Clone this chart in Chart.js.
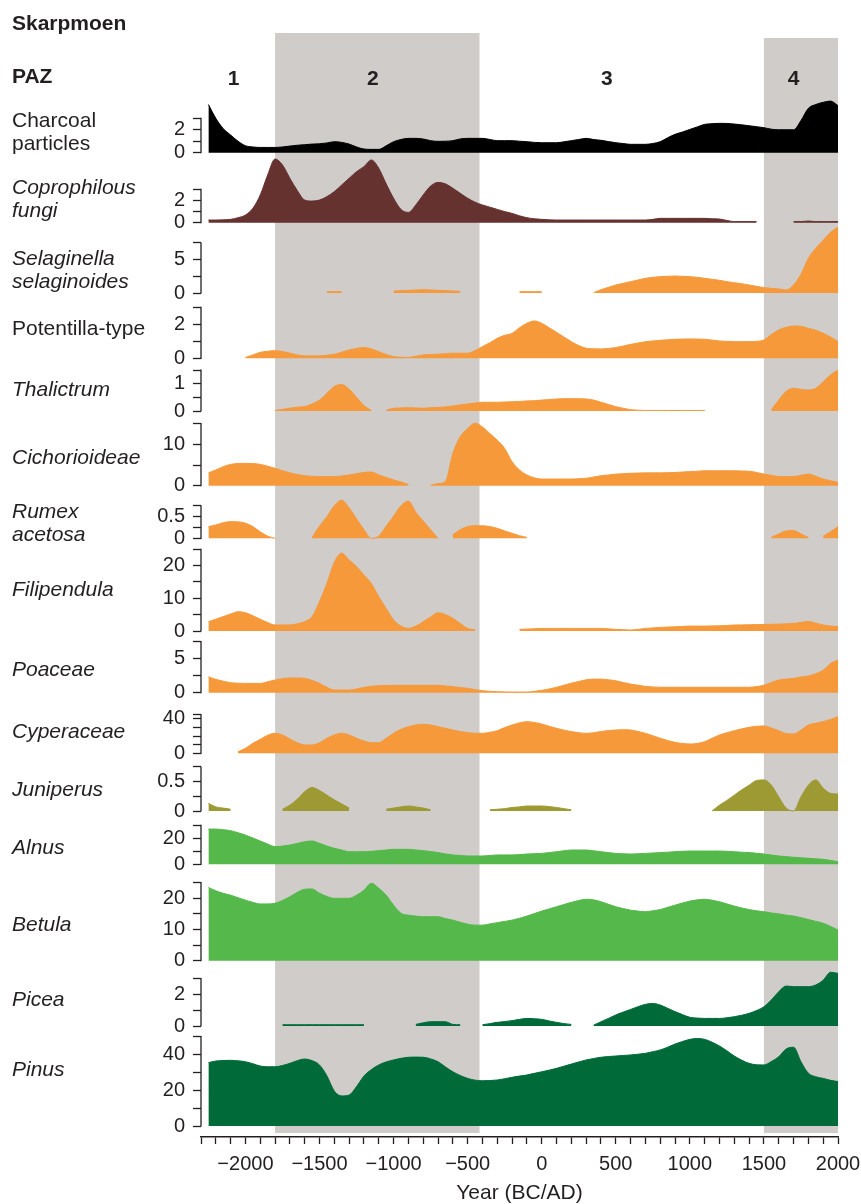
<!DOCTYPE html>
<html lang="en">
<head>
<meta charset="utf-8">
<title>Skarpmoen pollen diagram</title>
<script src="https://cdn.jsdelivr.net/npm/chart.js@4/dist/chart.umd.min.js"></script>
<style>
  html, body { margin: 0; padding: 0; background: #ffffff; }
  #box { position: relative; width: 861px; height: 1204px; }
</style>
</head>
<body>
<div id="box"><canvas id="diagram" width="861" height="1204"></canvas></div>
<script>
// ---- values, one every 50 years ----
const years = [
  -2250, -2200, -2150, -2100, -2050, -2000, -1950, -1900, -1850, -1800,
  -1750, -1700, -1650, -1600, -1550, -1500, -1450, -1400, -1350, -1300,
  -1250, -1200, -1150, -1100, -1050, -1000, -950, -900, -850, -800,
  -750, -700, -650, -600, -550, -500, -450, -400, -350, -300,
  -250, -200, -150, -100, -50, 0, 50, 100, 150, 200,
  250, 300, 350, 400, 450, 500, 550, 600, 650, 700,
  750, 800, 850, 900, 950, 1000, 1050, 1100, 1150, 1200,
  1250, 1300, 1350, 1400, 1450, 1500, 1550, 1600, 1650, 1700,
  1750, 1800, 1850, 1900, 1950, 2000
];

const charcoal = [
  4.2, 3.0, 2.1, 1.54, 1.0, 0.61, 0.5, 0.46, 0.46, 0.46,
  0.5, 0.58, 0.65, 0.7, 0.75, 0.78, 0.85, 0.96, 0.9, 0.75,
  0.5, 0.32, 0.29, 0.29, 0.6, 0.96, 1.15, 1.25, 1.25, 1.19,
  1.05, 0.99, 1.0, 1.05, 1.2, 1.25, 1.25, 1.25, 1.15, 1.05,
  1.05, 1.05, 1.0, 0.96, 0.9, 0.87, 0.87, 0.87, 0.95, 1.05,
  1.15, 1.25, 1.15, 1.08, 0.97, 0.87, 0.8, 0.73, 0.73, 0.73,
  0.8, 0.96, 1.3, 1.6, 1.8, 2.03, 2.25, 2.47, 2.53, 2.56,
  2.55, 2.5, 2.43, 2.35, 2.27, 2.18, 2.05, 2.0, 2.0, 2.0,
  2.8, 3.87, 4.2, 4.39, 4.5, 4.1
];
const coprophilousFungi = [
  0.24, 0.24, 0.26, 0.3, 0.45, 0.69, 1.3, 2.5, 4.3, 5.74,
  5.2, 4.0, 2.9, 2.04, 1.95, 2.04, 2.35, 2.8, 3.4, 4.0,
  4.6, 5.05, 5.65, 4.9, 3.5, 2.2, 1.2, 0.93, 1.6, 2.5,
  3.3, 3.63, 3.5, 3.1, 2.65, 2.2, 1.85, 1.6, 1.4, 1.2,
  1.0, 0.84, 0.62, 0.45, 0.35, 0.3, 0.26, 0.24, 0.24, 0.24,
  0.24, 0.24, 0.24, 0.24, 0.24, 0.24, 0.24, 0.24, 0.24, 0.24,
  0.3, 0.39, 0.39, 0.39, 0.39, 0.39, 0.39, 0.39, 0.35, 0.33,
  0.2, 0.1, 0.1, 0.1, 0.1, null, null, null, null, 0.1,
  0.1, 0.15, 0.1, 0.1, 0.1, 0.1
];
const selaginella = [
  null, null, null, null, null, null, null, null, null, null,
  null, null, null, null, null, null, 0.2, 0.2, 0.2, null,
  null, null, null, null, null, 0.3, 0.35, 0.4, 0.45, 0.5,
  0.45, 0.4, 0.35, 0.3, 0.25, null, null, null, null, null,
  null, null, 0.2, 0.2, 0.2, 0.2, null, null, null, null,
  null, null, 0.05, 0.5, 0.85, 1.2, 1.45, 1.7, 1.95, 2.2,
  2.35, 2.45, 2.5, 2.55, 2.5, 2.45, 2.35, 2.2, 2.05, 1.9,
  1.7, 1.55, 1.4, 1.2, 1.0, 0.8, 0.7, 0.6, 0.45, 1.2,
  2.8, 5.2, 6.7, 7.9, 9.1, 9.9
];
const potentilla = [
  null, null, null, null, null, 0.05, 0.2, 0.35, 0.42, 0.45,
  0.4, 0.3, 0.2, 0.14, 0.14, 0.14, 0.18, 0.24, 0.36, 0.49,
  0.58, 0.63, 0.55, 0.39, 0.22, 0.1, 0.06, 0.05, 0.12, 0.2,
  0.22, 0.24, 0.27, 0.3, 0.3, 0.3, 0.45, 0.69, 0.92, 1.18,
  1.35, 1.47, 1.8, 2.06, 2.2, 2.06, 1.8, 1.53, 1.25, 0.98,
  0.75, 0.59, 0.56, 0.55, 0.58, 0.63, 0.72, 0.82, 0.9, 0.98,
  1.02, 1.06, 1.09, 1.12, 1.13, 1.14, 1.13, 1.12, 1.07, 1.02,
  1.0, 0.98, 0.98, 0.98, 1.0, 1.08, 1.4, 1.67, 1.82, 1.9,
  1.88, 1.76, 1.65, 1.47, 1.25, 0.98
];
const thalictrum = [
  null, null, null, null, null, null, null, null, null, 0.02,
  0.06, 0.1, 0.14, 0.16, 0.26, 0.4, 0.65, 0.9, 0.97, 0.8,
  0.5, 0.2, 0.02, null, 0.02, 0.1, 0.11, 0.12, 0.11, 0.1,
  0.12, 0.13, 0.15, 0.18, 0.22, 0.26, 0.29, 0.32, 0.32, 0.32,
  0.33, 0.34, 0.35, 0.37, 0.38, 0.4, 0.42, 0.44, 0.45, 0.45,
  0.45, 0.44, 0.4, 0.32, 0.24, 0.16, 0.1, 0.05, 0.03, 0.02,
  0.02, 0.02, 0.02, 0.02, 0.02, 0.02, 0.02, 0.02, null, null,
  null, null, null, null, null, null, 0.05, 0.4, 0.72, 0.83,
  0.79, 0.77, 0.83, 1.07, 1.32, 1.5
];
const cichorioideae = [
  3.1, 3.8, 4.6, 5.15, 5.35, 5.4, 5.35, 5.15, 4.7, 4.2,
  3.6, 3.1, 2.7, 2.4, 2.25, 2.2, 2.2, 2.2, 2.35, 2.6,
  2.9, 3.2, 3.3, 2.6, 2.0, 1.4, 0.9, 0.3, null, null,
  0.1, 0.5, 1.0, 7.8, 11.8, 13.8, 15.1, 14.2, 12.6, 11.0,
  9.0, 5.8, 3.8, 2.6, 1.9, 1.6, 1.6, 1.6, 1.6, 1.6,
  1.7, 1.8, 2.1, 2.4, 2.6, 2.8, 2.9, 3.0, 3.05, 3.1,
  3.1, 3.1, 3.15, 3.2, 3.3, 3.4, 3.5, 3.6, 3.6, 3.6,
  3.6, 3.6, 3.55, 3.5, 3.2, 2.8, 2.5, 2.2, 2.2, 2.2,
  2.5, 2.8, 2.3, 1.6, 1.2, 0.8
];
const rumexAcetosa = [
  0.27, 0.31, 0.36, 0.385, 0.38, 0.35, 0.27, 0.15, 0.05, 0.0,
  null, null, null, null, 0.02, 0.28, 0.5, 0.75, 0.88, 0.7,
  0.45, 0.2, 0.0, 0.05, 0.28, 0.51, 0.75, 0.86, 0.6, 0.4,
  0.2, 0.0, null, 0.08, 0.2, 0.27, 0.29, 0.29, 0.27, 0.23,
  0.17, 0.115, 0.06, 0.02, null, null, null, null, null, null,
  null, null, null, null, null, null, null, null, null, null,
  null, null, null, null, null, null, null, null, null, null,
  null, null, null, null, null, null, 0.02, 0.1, 0.17, 0.18,
  0.1, 0.02, null, 0.05, 0.15, 0.27
];
const filipendula = [
  2.86, 3.6, 4.4, 5.2, 5.9, 5.6, 4.7, 3.6, 2.6, 1.84,
  1.84, 1.84, 2.2, 2.86, 4.4, 9.0, 14.6, 21.0, 23.8, 21.7,
  19.7, 17.1, 14.5, 10.5, 6.9, 3.4, 1.5, 0.8, 1.5, 2.86,
  4.3, 5.6, 5.0, 3.9, 2.3, 0.8, 0.4, null, null, null,
  null, null, 0.5, 0.6, 0.7, 0.8, 0.8, 0.8, 0.8, 0.8,
  0.8, 0.8, 0.8, 0.8, 0.65, 0.5, 0.4, 0.3, 0.5, 0.8,
  0.95, 1.1, 1.2, 1.3, 1.4, 1.5, 1.5, 1.5, 1.55, 1.6,
  1.7, 1.84, 1.87, 1.9, 1.95, 2.0, 2.05, 2.1, 2.2, 2.3,
  2.6, 2.9, 2.4, 1.84, 1.5, 1.3
];
const poaceae = [
  2.35, 1.96, 1.7, 1.47, 1.4, 1.37, 1.37, 1.37, 1.6, 1.86,
  2.05, 2.16, 2.16, 2.1, 1.8, 1.37, 0.8, 0.39, 0.39, 0.39,
  0.55, 0.78, 0.95, 1.03, 1.06, 1.08, 1.08, 1.08, 1.08, 1.08,
  1.08, 1.08, 1.0, 0.88, 0.76, 0.64, 0.45, 0.29, 0.2, 0.15,
  0.12, 0.1, 0.1, 0.1, 0.2, 0.35, 0.55, 0.8, 1.1, 1.4,
  1.65, 1.9, 2.0, 2.0, 1.9, 1.76, 1.5, 1.27, 1.1, 0.93,
  0.85, 0.8, 0.8, 0.8, 0.8, 0.8, 0.8, 0.8, 0.8, 0.8,
  0.8, 0.8, 0.8, 0.8, 0.9, 1.1, 1.5, 1.86, 2.0, 2.1,
  2.3, 2.45, 2.8, 3.3, 4.3, 4.8
];
const cyperaceae = [
  null, null, null, null, 1.9, 5.8, 11.7, 16.3, 21.0, 23.3,
  21.4, 16.7, 12.4, 9.7, 9.7, 12.4, 17.5, 21.4, 23.3, 21.4,
  17.5, 14.4, 12.4, 12.4, 17.5, 23.3, 28.0, 31.0, 33.0, 33.8,
  33.0, 31.0, 29.1, 27.2, 25.3, 24.1, 23.3, 23.3, 24.5, 26.4,
  30.0, 33.0, 35.5, 36.9, 36.0, 34.2, 31.5, 29.1, 27.0, 25.3,
  24.0, 23.3, 24.0, 25.3, 26.5, 27.2, 27.5, 27.2, 25.5, 23.3,
  20.5, 17.5, 15.0, 12.8, 11.5, 10.9, 11.5, 13.6, 17.5, 21.4,
  24.0, 26.4, 28.5, 30.3, 31.5, 31.9, 29.5, 26.4, 23.0, 22.5,
  27.0, 33.0, 35.0, 36.9, 39.5, 42.7
];
const juniperus = [
  0.13, 0.07, 0.05, 0.03, null, null, null, null, null, null,
  0.03, 0.1, 0.2, 0.33, 0.4, 0.35, 0.27, 0.19, 0.12, 0.05,
  null, null, null, null, 0.03, 0.05, 0.07, 0.085, 0.07, 0.05,
  0.02, null, null, null, null, null, null, null, 0.02, 0.03,
  0.04, 0.06, 0.07, 0.085, 0.085, 0.085, 0.075, 0.06, 0.04, 0.02,
  null, null, null, null, null, null, null, null, null, null,
  null, null, null, null, null, null, null, null, 0.0, 0.1,
  0.18, 0.27, 0.36, 0.44, 0.52, 0.53, 0.44, 0.24, 0.05, 0.0,
  0.24, 0.44, 0.53, 0.39, 0.3, 0.29
];
const alnus = [
  27.1, 27.1, 26.6, 25.9, 24.3, 22.5, 20.2, 17.9, 15.6, 13.6,
  14.0, 14.8, 16.0, 17.4, 17.9, 16.1, 14.0, 12.3, 11.0, 9.7,
  9.7, 9.7, 10.0, 10.5, 11.0, 11.5, 11.5, 11.5, 11.0, 10.5,
  9.8, 9.0, 8.0, 7.2, 6.8, 6.4, 6.4, 6.4, 6.8, 7.2,
  7.2, 7.2, 7.5, 7.9, 8.2, 8.4, 9.0, 9.7, 10.4, 11.0,
  11.0, 11.0, 10.4, 9.7, 9.0, 8.4, 8.1, 7.9, 8.1, 8.4,
  8.7, 9.0, 9.3, 9.7, 10.0, 10.2, 10.2, 10.2, 10.2, 10.2,
  10.0, 9.7, 9.3, 9.0, 8.5, 7.9, 7.1, 6.4, 5.9, 5.4,
  5.0, 4.6, 4.2, 3.8, 3.0, 2.0
];
const betula = [
  23.5, 22.4, 21.6, 21.0, 20.2, 19.4, 18.7, 18.2, 18.2, 18.4,
  19.3, 20.5, 21.9, 22.9, 23.0, 21.6, 20.6, 20.0, 20.0, 20.0,
  21.0, 22.6, 24.8, 23.2, 21.0, 17.8, 15.2, 14.6, 14.3, 14.1,
  14.1, 14.1, 13.5, 13.0, 12.3, 11.7, 11.4, 11.4, 11.8, 12.2,
  12.6, 13.0, 13.6, 14.3, 15.1, 15.9, 16.6, 17.3, 18.0, 18.7,
  19.3, 19.7, 19.5, 18.9, 18.1, 17.3, 16.7, 16.2, 15.9, 15.7,
  16.0, 16.4, 17.1, 17.8, 18.5, 19.1, 19.5, 19.7, 19.4, 18.9,
  18.2, 17.5, 16.9, 16.4, 16.0, 15.7, 15.3, 15.0, 14.6, 14.3,
  13.8, 13.2, 12.6, 12.0, 11.0, 9.8
];
const picea = [
  null, null, null, null, null, null, null, null, null, null,
  0.08, 0.08, 0.08, 0.08, 0.08, 0.08, 0.08, 0.08, 0.08, 0.08,
  0.08, 0.08, null, null, null, null, null, null, 0.1, 0.2,
  0.27, 0.27, 0.27, 0.1, 0.08, null, null, 0.08, 0.15, 0.23,
  0.28, 0.34, 0.42, 0.48, 0.46, 0.42, 0.32, 0.23, 0.15, 0.1,
  null, null, 0.05, 0.27, 0.48, 0.7, 0.88, 1.05, 1.22, 1.37,
  1.43, 1.33, 1.12, 0.91, 0.72, 0.55, 0.5, 0.48, 0.48, 0.48,
  0.52, 0.59, 0.68, 0.8, 0.98, 1.22, 1.65, 2.17, 2.53, 2.49,
  2.49, 2.49, 2.6, 2.9, 3.4, 3.33
];
const pinus = [
  35.4, 36.3, 36.6, 36.7, 36.4, 35.9, 34.8, 33.5, 33.1, 33.1,
  33.8, 35.0, 36.5, 37.4, 36.5, 34.1, 28.0, 19.5, 16.8, 17.3,
  22.0, 27.9, 31.5, 34.1, 35.8, 36.9, 37.8, 38.4, 38.5, 38.4,
  37.5, 35.9, 33.0, 30.3, 28.2, 26.6, 25.6, 25.3, 25.4, 25.7,
  26.4, 27.2, 27.9, 28.5, 29.4, 30.3, 31.2, 32.2, 33.4, 34.6,
  35.8, 36.9, 37.7, 38.4, 38.8, 39.1, 39.4, 39.7, 40.1, 40.6,
  41.5, 42.5, 44.0, 45.8, 47.2, 48.4, 48.9, 48.4, 46.8, 44.7,
  42.0, 39.1, 36.8, 35.0, 34.2, 34.1, 36.0, 38.7, 43.0, 44.0,
  35.9, 29.5, 27.5, 26.6, 25.5, 24.8
];

// pollen assemblage zones
const zoneRanges = [[-1800, -420], [1500, 2000]];
const pazLabels = ['1', '2', '3', '4'];
const pazYears = [-2080, -1140, 440, 1700];

// panel names, tick values and labelled ticks (top to bottom)
const panelNames = [
  ['Charcoal', 'particles'], ['Coprophilous', 'fungi'], ['Selaginella', 'selaginoides'],
  ['Potentilla-type'], ['Thalictrum'], ['Cichorioideae'], ['Rumex', 'acetosa'],
  ['Filipendula'], ['Poaceae'], ['Cyperaceae'], ['Juniperus'], ['Alnus'],
  ['Betula'], ['Picea'], ['Pinus']
];
const panelItalic = [false, true, true, false, true, true, true, true, true, true, true, true, true, true, true];
const panelSeries = [charcoal, coprophilousFungi, selaginella, potentilla, thalictrum, cichorioideae,
  rumexAcetosa, filipendula, poaceae, cyperaceae, juniperus, alnus, betula, picea, pinus];
const panelTicks = [
  [0, 1, 2, 3], [0, 1, 2, 3], [0, 2.5, 5, 7.5], [0, 1, 2, 3], [0, 0.5, 1, 1.5],
  [0, 5, 10, 15], [0, 0.25, 0.5, 0.75], [0, 5, 10, 15, 20, 25], [0, 2.5, 5, 7.5],
  [0, 10, 20, 30, 40, 45], [0, 0.25, 0.5, 0.75], [0, 10, 20, 30], [0, 5, 10, 15, 20, 25],
  [0, 1, 2, 3], [0, 10, 20, 30, 40, 50]
];
const panelTickLabels = [
  [0, 2], [0, 2], [0, 5], [0, 2], [0, 1], [0, 10], [0, 0.5], [0, 10, 20],
  [0, 5], [0, 40], [0, 0.5], [0, 20], [0, 10, 20], [0, 2], [0, 20, 40]
];

// ---- colours and layout ----
const INK = '#231f20';
const ORANGE = '#f6993b';
const LIGHT_GREEN = '#55b84a';
const DARK_GREEN = '#006b38';
const panelColors = ['#000000', '#653230', ORANGE, ORANGE, ORANGE, ORANGE, ORANGE, ORANGE,
  ORANGE, ORANGE, '#9d9a34', LIGHT_GREEN, LIGHT_GREEN, DARK_GREEN, DARK_GREEN];
const ZONE_GRAY = '#cfccc9';
const FONT = "'Liberation Sans', Arial, Helvetica, sans-serif";

const AREA = { top: 95, bottom: 1137, left: 201, right: 838 };
const baseY = [152.7, 222.7, 293, 358.3, 411, 485.7, 538.3, 631, 692.7, 753.3, 811, 864.3, 960.7, 1026, 1126];
const pxPerUnit = [11.47, 11.1, 6.67, 17, 27.3, 4.14, 43.3, 3.27, 6.8, 0.858, 58.7, 1.3, 3.12, 15.8, 1.79];
const titleY = [121, 188, 259, 329, 390, 458, 512, 590, 670, 732, 790, 848, 925, 1000, 1070];
const TITLE_LINE = 23;
const zoneTop = [33, 38];
const ZONE_BOTTOM = 1133;

// band edges of the stacked y axes
const edges = [AREA.top];
baseY.forEach((b, i) => edges.push(i < baseY.length - 1 ? b + 3 : AREA.bottom));

function yearLabel(v) {
  if (v % 500 !== 0) return '';
  return v < 0 ? '\u2212' + (-v) : String(v);
}

const scales = {
  x: {
    type: 'linear',
    position: 'bottom',
    min: -2300,
    max: 2000,
    afterFit: s => { s.height = 1204 - AREA.bottom; s.paddingLeft = 0; s.paddingRight = 0; },
    ticks: { stepSize: 100, autoSkip: false, maxRotation: 0, padding: 8, color: INK,
             font: { size: 20 }, callback: v => yearLabel(v) },
    grid: { drawOnChartArea: false, tickLength: 7, tickColor: INK, tickWidth: 1.3 },
    border: { display: true, color: INK, width: 1.5 },
    title: { display: true, text: 'Year (BC/AD)', color: INK,
             font: { size: 21, lineHeight: 1 }, padding: { top: 0, bottom: 0 } }
  }
};

panelSeries.forEach((vals, i) => {
  const top = edges[i];
  const bottom = edges[i + 1];
  scales['y' + i] = {
    type: 'linear',
    position: 'left',
    stack: 'panels',
    stackWeight: bottom - top,
    weight: panelSeries.length - i,
    bounds: 'data',
    min: -(bottom - baseY[i]) / pxPerUnit[i],
    max: (baseY[i] - top) / pxPerUnit[i],
    afterFit: s => { s.width = AREA.left; s.paddingTop = 0; s.paddingBottom = 0; },
    afterBuildTicks: s => { s.ticks = panelTicks[i].map(v => ({ value: v })); },
    ticks: {
      autoSkip: false, padding: 8, color: INK, font: { size: 20 },
      callback: v => (panelTickLabels[i].includes(v) ? String(v) : '')
    },
    grid: { drawOnChartArea: false, tickLength: 8, tickColor: INK, tickWidth: 1.3 },
    border: { display: false }
  };
});

const datasets = panelSeries.map((vals, i) => ({
  label: panelNames[i].join(' '),
  data: years.map((x, k) => ({ x: x, y: vals[k] })),
  yAxisID: 'y' + i,
  borderColor: panelColors[i],
  backgroundColor: panelColors[i],
  borderWidth: 1,
  fill: 'origin',
  pointRadius: 0,
  cubicInterpolationMode: 'monotone',
  spanGaps: false,
  clip: false
}));

// zones behind everything, axis brackets and text labels on top
const decorations = {
  id: 'decorations',
  beforeDraw(chart) {
    const { ctx, scales: { x } } = chart;
    ctx.save();
    ctx.fillStyle = ZONE_GRAY;
    zoneRanges.forEach(([from, to], k) => {
      const x0 = x.getPixelForValue(from);
      const x1 = x.getPixelForValue(to);
      ctx.fillRect(x0, zoneTop[k], x1 - x0, ZONE_BOTTOM - zoneTop[k]);
    });
    ctx.restore();
  },
  afterDraw(chart) {
    const { ctx, scales: sc } = chart;
    ctx.save();
    ctx.strokeStyle = INK;
    ctx.lineWidth = 1.3;
    panelTicks.forEach((ticks, i) => {
      const s = sc['y' + i];
      ctx.beginPath();
      ctx.moveTo(s.right, s.getPixelForValue(0) + 0.6);
      ctx.lineTo(s.right, s.getPixelForValue(ticks[ticks.length - 1]) - 0.6);
      ctx.stroke();
    });

    ctx.fillStyle = INK;
    ctx.textAlign = 'left';
    ctx.textBaseline = 'middle';
    panelNames.forEach((lines, i) => {
      ctx.font = (panelItalic[i] ? 'italic ' : '') + '21px ' + FONT;
      lines.forEach((t, k) => ctx.fillText(t, 12, titleY[i] + k * TITLE_LINE));
    });

    ctx.font = 'bold 21px ' + FONT;
    ctx.fillText('Skarpmoen', 12, 24);
    ctx.fillText('PAZ', 12, 77);
    ctx.textAlign = 'center';
    pazLabels.forEach((t, k) => ctx.fillText(t, sc.x.getPixelForValue(pazYears[k]), 79));
    ctx.restore();
  }
};

Chart.defaults.font.family = FONT;

new Chart(document.getElementById('diagram'), {
  type: 'line',
  data: { datasets: datasets },
  options: {
    responsive: false,
    animation: false,
    devicePixelRatio: 1,
    events: [],
    layout: { padding: { top: AREA.top, left: 0, right: 861 - AREA.right, bottom: 0 } },
    plugins: { legend: { display: false }, tooltip: { enabled: false } },
    scales: scales
  },
  plugins: [decorations]
});
</script>
</body>
</html>
